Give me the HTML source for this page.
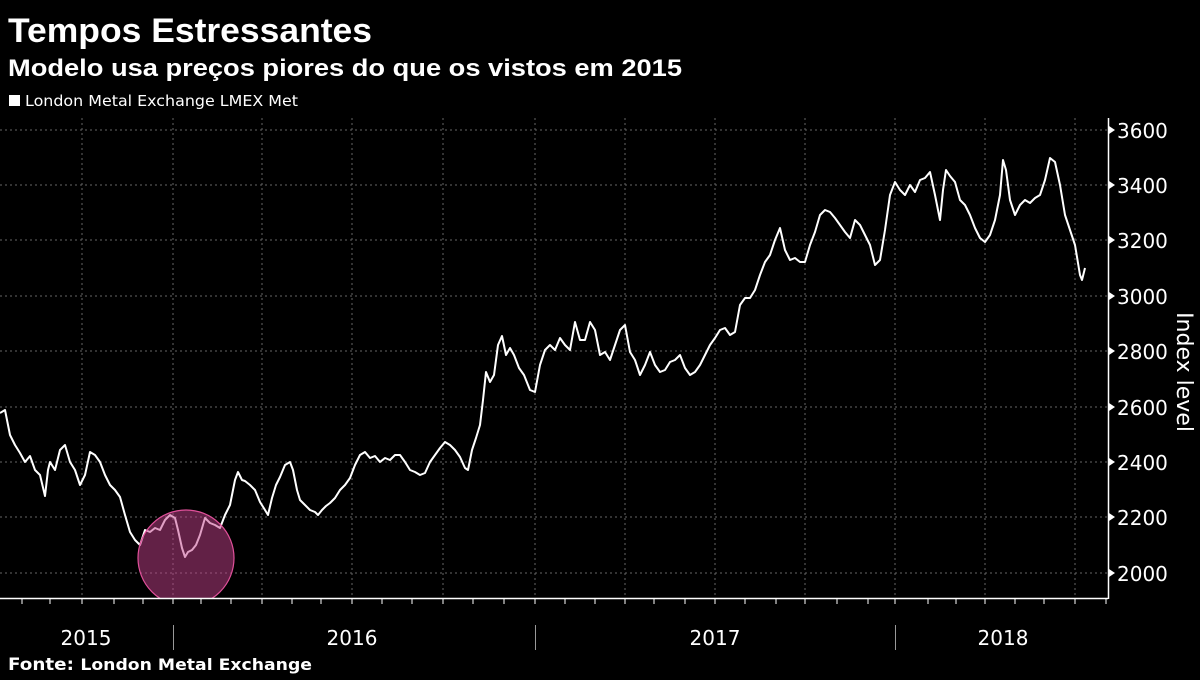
<!DOCTYPE html>
<html><head><meta charset="utf-8"><style>
body{margin:0;background:#000;width:1200px;height:675px;overflow:hidden;font-family:"Liberation Sans",sans-serif;color:#fff}
</style></head><body>
<svg width="1200" height="675" xmlns="http://www.w3.org/2000/svg">
<rect width="1200" height="675" fill="#000"/>
<text x="8" y="42" font-size="34" font-weight="bold" fill="#fff" font-family="Liberation Sans" textLength="364" lengthAdjust="spacingAndGlyphs">Tempos Estressantes</text>
<text x="8" y="76" font-size="24" font-weight="bold" fill="#fff" font-family="Liberation Sans" textLength="674" lengthAdjust="spacingAndGlyphs">Modelo usa preços piores do que os vistos em 2015</text>
<rect x="9" y="95" width="11" height="11" fill="#fff"/>
<text x="25" y="106" font-size="15" fill="#fff" font-family="DejaVu Sans" textLength="273" lengthAdjust="spacingAndGlyphs">London Metal Exchange LMEX Met</text>
<g stroke="#666" stroke-width="1" stroke-dasharray="2,3">
<line x1="0" x2="1108" y1="130" y2="130"/><line x1="0" x2="1108" y1="185" y2="185"/><line x1="0" x2="1108" y1="240" y2="240"/><line x1="0" x2="1108" y1="296" y2="296"/><line x1="0" x2="1108" y1="351" y2="351"/><line x1="0" x2="1108" y1="407" y2="407"/><line x1="0" x2="1108" y1="462" y2="462"/><line x1="0" x2="1108" y1="517" y2="517"/><line x1="0" x2="1108" y1="573" y2="573"/>
<line x1="82" x2="82" y1="118" y2="598"/><line x1="173" x2="173" y1="118" y2="598"/><line x1="262" x2="262" y1="118" y2="598"/><line x1="352" x2="352" y1="118" y2="598"/><line x1="443" x2="443" y1="118" y2="598"/><line x1="535" x2="535" y1="118" y2="598"/><line x1="625" x2="625" y1="118" y2="598"/><line x1="715" x2="715" y1="118" y2="598"/><line x1="805" x2="805" y1="118" y2="598"/><line x1="895" x2="895" y1="118" y2="598"/><line x1="985" x2="985" y1="118" y2="598"/><line x1="1075" x2="1075" y1="118" y2="598"/>
</g>
<polyline fill="none" stroke="#fff" stroke-width="2" stroke-linejoin="round" points="0,413 5,410 10,435 15,445 20,453 25,462 30,456 35,470 40,475 45,496 48,470 50,462 55,470 60,450 65,445 70,462 75,470 80,485 85,475 90,452 95,455 100,462 105,475 110,485 115,490 120,497 125,515 130,532 135,540 140,545 145,530 150,532 155,528 160,530 165,520 170,515 175,518 178,530 182,548 185,557 188,552 192,550 196,545 200,535 205,518 210,523 215,525 220,528 225,515 230,505 235,480 238,472 242,480 245,481 250,485 255,490 260,502 265,510 268,515 272,498 276,485 280,477 285,465 290,462 293,470 297,490 300,500 305,505 310,510 315,512 318,515 322,510 326,506 330,503 335,498 340,490 345,485 350,478 355,465 360,455 365,452 370,458 375,456 380,462 385,458 390,460 395,455 400,455 405,462 410,470 415,472 420,475 425,473 430,462 435,455 440,448 445,442 450,445 455,450 460,457 465,468 468,470 472,450 476,438 480,425 483,400 486,372 490,382 494,375 498,345 502,336 506,355 510,348 514,355 519,368 524,375 530,390 535,392 540,365 545,350 550,345 555,350 560,338 565,345 570,350 575,322 580,340 585,340 590,322 595,330 600,355 605,352 610,360 615,345 620,330 625,325 630,352 635,360 640,375 645,365 650,352 655,365 660,372 665,370 670,362 675,360 680,355 685,368 690,375 695,372 700,365 705,355 710,345 715,338 720,330 725,328 730,335 735,332 740,305 745,298 750,298 755,290 760,275 765,262 770,255 775,240 780,228 785,250 790,260 795,258 800,262 805,262 810,245 815,232 820,215 825,210 830,212 835,218 840,225 845,232 850,238 855,220 860,225 865,235 870,245 875,265 880,260 885,230 890,195 895,182 900,190 905,195 910,185 915,192 920,180 925,178 930,172 935,195 940,220 943,190 946,170 950,176 955,182 960,200 965,205 970,215 975,228 980,238 985,242 990,235 995,220 1000,195 1003,160 1006,170 1010,200 1015,215 1020,205 1025,200 1030,203 1035,198 1040,195 1045,180 1050,158 1055,162 1060,185 1065,215 1070,230 1075,245 1080,275 1082,280 1085,268"/>
<clipPath id="c"><rect x="0" y="0" width="1108" height="598"/></clipPath>
<circle cx="186" cy="558" r="48" fill="rgba(196,66,140,0.5)" stroke="#e0509a" stroke-width="1.2" clip-path="url(#c)"/>
<line x1="0" x2="1108" y1="598.5" y2="598.5" stroke="#fff" stroke-width="1.5"/>
<line x1="1108.5" x2="1108.5" y1="118" y2="599" stroke="#fff" stroke-width="1.5"/>
<g stroke="#fff" stroke-width="1">
<line x1="22" x2="22" y1="598" y2="604"/><line x1="50" x2="50" y1="598" y2="604"/><line x1="82" x2="82" y1="598" y2="604"/><line x1="114" x2="114" y1="598" y2="604"/><line x1="143" x2="143" y1="598" y2="604"/><line x1="173" x2="173" y1="598" y2="604"/><line x1="201" x2="201" y1="598" y2="604"/><line x1="231" x2="231" y1="598" y2="604"/><line x1="262" x2="262" y1="598" y2="604"/><line x1="292" x2="292" y1="598" y2="604"/><line x1="321" x2="321" y1="598" y2="604"/><line x1="352" x2="352" y1="598" y2="604"/><line x1="382" x2="382" y1="598" y2="604"/><line x1="412" x2="412" y1="598" y2="604"/><line x1="443" x2="443" y1="598" y2="604"/><line x1="473" x2="473" y1="598" y2="604"/><line x1="504" x2="504" y1="598" y2="604"/><line x1="535" x2="535" y1="598" y2="604"/><line x1="565" x2="565" y1="598" y2="604"/><line x1="595" x2="595" y1="598" y2="604"/><line x1="625" x2="625" y1="598" y2="604"/><line x1="654" x2="654" y1="598" y2="604"/><line x1="685" x2="685" y1="598" y2="604"/><line x1="715" x2="715" y1="598" y2="604"/><line x1="745" x2="745" y1="598" y2="604"/><line x1="776" x2="776" y1="598" y2="604"/><line x1="805" x2="805" y1="598" y2="604"/><line x1="837" x2="837" y1="598" y2="604"/><line x1="868" x2="868" y1="598" y2="604"/><line x1="895" x2="895" y1="598" y2="604"/><line x1="928" x2="928" y1="598" y2="604"/><line x1="956" x2="956" y1="598" y2="604"/><line x1="985" x2="985" y1="598" y2="604"/><line x1="1015" x2="1015" y1="598" y2="604"/><line x1="1044" x2="1044" y1="598" y2="604"/><line x1="1075" x2="1075" y1="598" y2="604"/><line x1="1106" x2="1106" y1="598" y2="604"/>
</g>
<g stroke="#999" stroke-width="1"><line x1="173.5" x2="173.5" y1="625" y2="650"/><line x1="535.5" x2="535.5" y1="625" y2="650"/><line x1="895.5" x2="895.5" y1="625" y2="650"/></g>
<g font-size="20" fill="#fff" font-family="DejaVu Sans" text-anchor="middle"><text x="86" y="645">2015</text><text x="352" y="645">2016</text><text x="715" y="645">2017</text><text x="1003" y="645">2018</text></g>
<g font-size="20" fill="#fff" font-family="DejaVu Sans">
<text x="1117" y="138">3600</text><text x="1117" y="193">3400</text><text x="1117" y="248">3200</text><text x="1117" y="304">3000</text><text x="1117" y="359">2800</text><text x="1117" y="415">2600</text><text x="1117" y="470">2400</text><text x="1117" y="525">2200</text><text x="1117" y="581">2000</text>
</g>
<g fill="#fff"><path d="M1109,126 l6,4 l-6,4z"/><path d="M1109,181 l6,4 l-6,4z"/><path d="M1109,236 l6,4 l-6,4z"/><path d="M1109,292 l6,4 l-6,4z"/><path d="M1109,347 l6,4 l-6,4z"/><path d="M1109,403 l6,4 l-6,4z"/><path d="M1109,458 l6,4 l-6,4z"/><path d="M1109,513 l6,4 l-6,4z"/><path d="M1109,569 l6,4 l-6,4z"/></g>
<text transform="translate(1177,372) rotate(90)" font-size="22" fill="#fff" font-family="DejaVu Sans" text-anchor="middle">Index level</text>
<text x="8" y="670" font-size="17" font-weight="bold" fill="#fff" font-family="DejaVu Sans" textLength="304" lengthAdjust="spacingAndGlyphs">Fonte: <tspan font-size="16">London Metal Exchange</tspan></text>
</svg>
</body></html>
